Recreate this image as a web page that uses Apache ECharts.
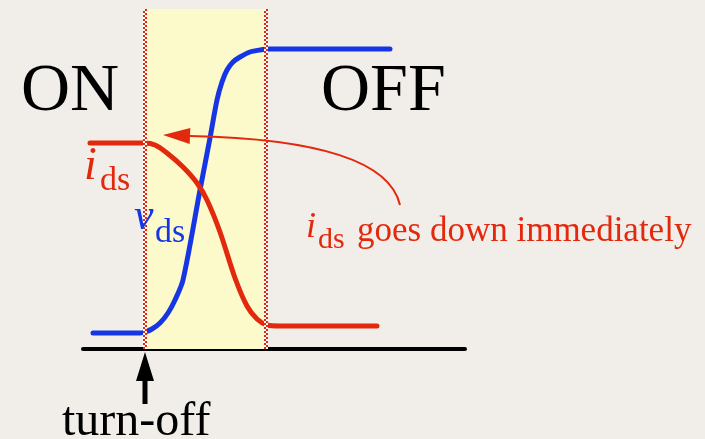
<!DOCTYPE html>
<html>
<head>
<meta charset="utf-8">
<script src="https://cdn.jsdelivr.net/npm/echarts@6/dist/echarts.min.js"></script>
<style>
  html, body { margin: 0; padding: 0; background: #f1eee9; }
  #chart { width: 705px; height: 439px; }
</style>
</head>
<body>
<div id="chart"></div>
<script>
// Drain-source voltage during turn-off (time, amplitude)
const vdsTime = [10, 57, 62, 69, 77, 85, 92, 100, 117, 127, 134, 139, 144, 150, 157, 167, 177, 187, 307];
const vdsValue = [16, 16, 17, 20, 26, 36, 49, 69, 159, 211, 249, 267, 279, 287, 292, 297, 299, 300, 300];

// Drain-source current during turn-off (time, amplitude)
const idsTime = [7, 62, 72, 84, 100, 114, 124, 137, 152, 164, 174, 184, 197, 294];
const idsValue = [206, 206, 204, 196, 182, 166, 149, 117, 71, 43, 30, 24, 23, 23];

// Switching interval: turn-off instant and end of transition
const switchWindow = [62, 183];

// Callout: start, control and end (arrowhead base), tip — axis units
const calloutPath = [[317, 144], [302, 209], [107, 213], [80, 214]];

const RED = '#e3290d';
const BLUE = '#1636e6';
const SERIF = '"Liberation Serif", "DejaVu Serif", serif';

const chart = echarts.init(document.getElementById('chart'));

function pairs(xs, ys) { return xs.map((x, i) => [x, ys[i]]); }

// Checkered boundary lines: white base plus two offset red dash columns
function boundaryLines() {
  const out = [];
  switchWindow.forEach(x => {
    out.push([{ coord: [x, 0], lineStyle: { color: '#ffffff', width: 4, type: 'solid' } }, { coord: [x, 340] }]);
    out.push([{ coord: [x - 1, 0], lineStyle: { color: RED, width: 2, type: [2, 2], dashOffset: 0 } }, { coord: [x - 1, 340] }]);
    out.push([{ coord: [x + 1, 0], lineStyle: { color: RED, width: 2, type: [2, 2], dashOffset: 2 } }, { coord: [x + 1, 340] }]);
  });
  return out;
}

chart.setOption({
  backgroundColor: '#f1eee9',
  animation: false,
  grid: { left: 83, right: 240, top: 9, bottom: 90 },
  xAxis: {
    type: 'value', min: 0, max: 382,
    axisLine: { show: true, onZero: false, lineStyle: { color: '#000', width: 4 } },
    axisTick: { show: false }, axisLabel: { show: false }, splitLine: { show: false }
  },
  yAxis: {
    type: 'value', min: 0, max: 340,
    axisLine: { show: false }, axisTick: { show: false }, axisLabel: { show: false }, splitLine: { show: false }
  },
  series: [
    {
      name: 'window', type: 'line', data: [], z: 1,
      markArea: {
        silent: true,
        itemStyle: { color: '#fcf9cb' },
        data: [[{ xAxis: switchWindow[0] }, { xAxis: switchWindow[1] }]]
      }
    },
    {
      name: 'vds', type: 'line', data: pairs(vdsTime, vdsValue), z: 3,
      smooth: 0.3, showSymbol: false, clip: false,
      lineStyle: { color: BLUE, width: 5, cap: 'round' }
    },
    {
      name: 'ids', type: 'line', data: pairs(idsTime, idsValue), z: 3,
      smooth: 0.3, showSymbol: false, clip: false,
      lineStyle: { color: RED, width: 5, cap: 'round' }
    },
    {
      name: 'bounds', type: 'line', z: 5,
      data: switchWindow.map(x => [x, 0]),
      showSymbol: false, lineStyle: { opacity: 0 },
      markLine: { silent: true, symbol: 'none', label: { show: false }, data: boundaryLines() }
    }
  ]
});

// Annotations positioned through the grid's coordinate conversion
const px = p => chart.convertToPixel({ gridIndex: 0 }, p);
const [s, c, e, t] = calloutPath.map(px);
const dx = t[0] - e[0], dy = t[1] - e[1];
const len = Math.hypot(dx, dy);
const nx = -dy / len * 8, ny = dx / len * 8;

const turnOff = px([switchWindow[0], 0]);

function txt(text, x, y, size, color, italic) {
  return {
    type: 'text', z: 10,
    style: {
      text, x, y, fill: color,
      font: (italic ? 'italic ' : '') + size + 'px ' + SERIF,
      verticalAlign: 'middle', align: 'left'
    }
  };
}

chart.setOption({
  graphic: [
    {
      type: 'bezierCurve', z: 6,
      shape: { x1: s[0], y1: s[1], cpx1: c[0], cpy1: c[1], x2: e[0], y2: e[1] },
      style: { stroke: RED, lineWidth: 2, fill: null }
    },
    {
      type: 'polygon', z: 6,
      shape: { points: [t, [e[0] + nx, e[1] + ny], [e[0] - nx, e[1] - ny]] },
      style: { fill: RED }
    },
    {
      type: 'polygon', z: 6,
      shape: { points: [
        [turnOff[0], turnOff[1] + 3], [turnOff[0] + 9, turnOff[1] + 32], [turnOff[0] + 2.5, turnOff[1] + 32],
        [turnOff[0] + 2.5, turnOff[1] + 55], [turnOff[0] - 2.5, turnOff[1] + 55], [turnOff[0] - 2.5, turnOff[1] + 32],
        [turnOff[0] - 9, turnOff[1] + 32]
      ] },
      style: { fill: '#000' }
    },
    txt('ON', 21, 92, 68, '#000', false),
    txt('OFF', 321, 92, 68, '#000', false),
    txt('turn-off', 62, 422, 48, '#000', false),
    txt('i', 84, 167, 46, RED, true),
    txt('ds', 100, 181, 34, RED, false),
    txt('v', 134, 217, 44, BLUE, true),
    txt('ds', 155, 233, 34, BLUE, false),
    txt('i', 306, 228, 36, RED, true),
    txt('ds', 318, 240, 30, RED, false),
    txt('goes down immediately', 357, 232, 35, RED, false)
  ]
});
</script>
</body>
</html>
